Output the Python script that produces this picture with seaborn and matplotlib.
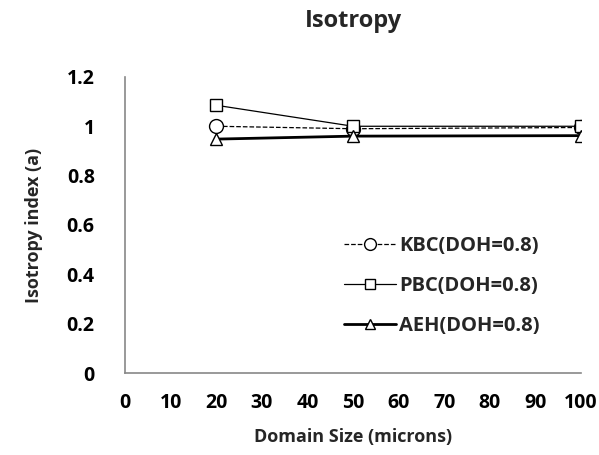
import matplotlib
matplotlib.use("Agg")
import matplotlib.pyplot as plt
import seaborn as sns
import pandas as pd

sns.set_theme(style="white")
plt.rcParams["font.family"] = ["Open Sans", "DejaVu Sans"]
plt.rcParams["font.weight"] = "bold"

domain_size = [20, 50, 100]
kbc = [1.0, 0.99, 0.995]
pbc = [1.085, 1.0, 1.0]
aeh = [0.948, 0.96, 0.962]
labels = ["KBC(DOH=0.8)", "PBC(DOH=0.8)", "AEH(DOH=0.8)"]
x_ticks = list(range(0, 101, 10))
y_ticks = [0, 0.2, 0.4, 0.6, 0.8, 1.0, 1.2]
y_tick_labels = ["0", "0.2", "0.4", "0.6", "0.8", "1", "1.2"]

fig = plt.figure(figsize=(5.99, 4.55), dpi=100)
ax = fig.add_axes([0.209, 0.180, 0.761, 0.651])

styles = [
    dict(marker="o", linestyle="--", linewidth=0.9, markersize=10),
    dict(marker="s", linestyle="-", linewidth=0.9, markersize=8),
    dict(marker="^", linestyle="-", linewidth=2.0, markersize=8),
]
for vals, lab, st in zip([kbc, pbc, aeh], labels, styles):
    df = pd.DataFrame({"x": domain_size, "y": vals})
    sns.lineplot(data=df, x="x", y="y", ax=ax, color="black", label=lab,
                 markerfacecolor="white", markeredgecolor="black",
                 markeredgewidth=1.0, **st)

ax.set_xlim(0, 100)
ax.set_ylim(0, 1.2)
ax.set_xticks(x_ticks)
ax.set_yticks(y_ticks)
ax.set_yticklabels(y_tick_labels)
ax.tick_params(axis="both", labelsize=14, colors="black")
ax.tick_params(axis="x", direction="inout", length=8, width=1, color="#888888", pad=10)
ax.tick_params(axis="y", direction="out", length=6, width=1, color="#888888", pad=16)
for lbl in ax.get_xticklabels() + ax.get_yticklabels():
    lbl.set_fontweight("bold")

for side in ["top", "right"]:
    ax.spines[side].set_visible(False)
for side in ["left", "bottom"]:
    ax.spines[side].set_color("#888888")
    ax.spines[side].set_linewidth(1.2)

ax.set_xlabel("Domain Size (microns)", fontsize=13, fontweight="bold", labelpad=11)
ax.set_ylabel("Isotropy index (a)", fontsize=13, fontweight="bold", labelpad=17)
ax.set_title("Isotropy", fontsize=17, fontweight="bold", pad=36)

leg = ax.legend(loc="center left", bbox_to_anchor=(0.44, 0.295), frameon=False,
                fontsize=14.5, labelspacing=1.0, handlelength=2.6,
                handletextpad=0.15, markerscale=0.85)
for t in leg.get_texts():
    t.set_fontweight("bold")

fig.savefig("out.png", dpi=100)
